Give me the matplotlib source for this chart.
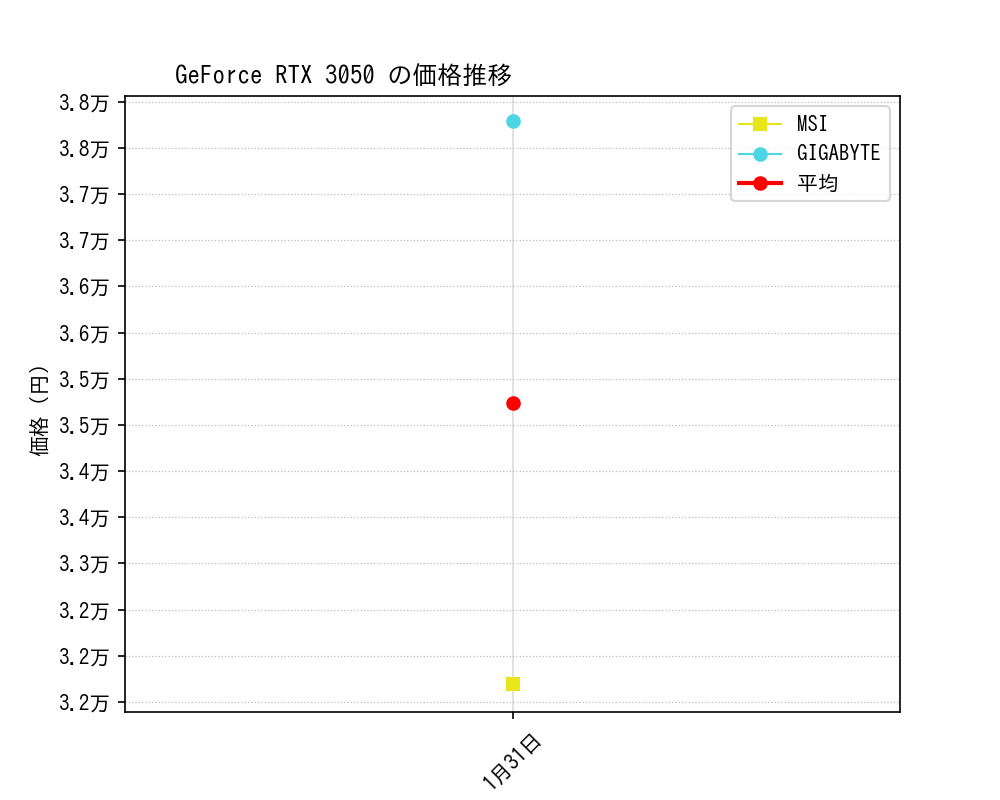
import matplotlib
matplotlib.use("Agg")
import matplotlib.pyplot as plt

plt.rcParams['font.family'] = ['IPAGothic', 'Noto Sans CJK JP', 'DejaVu Sans']

dates = ["1月31日"]
msi = [31690]
gigabyte = [37795]
average = [34742.5]

ytick_values = [31500, 32000, 32500, 33000, 33500, 34000, 34500, 35000,
                35500, 36000, 36500, 37000, 37500, 38000]
ytick_labels = ["3.2万", "3.2万", "3.2万", "3.3万", "3.4万", "3.4万", "3.5万",
                "3.5万", "3.6万", "3.6万", "3.7万", "3.7万", "3.8万", "3.8万"]
y_limits = (31392, 38062)

title = "GeForce RTX 3050 の価格推移"
ylabel = "価格（円）"

fig, ax = plt.subplots(figsize=(20/3, 16/3), dpi=150)

ax.plot(dates, msi, marker='s', color='#e6e619', linewidth=1, label='MSI')
ax.plot(dates, gigabyte, marker='o', color='#4bd6e3', linewidth=1, label='GIGABYTE')
ax.plot(dates, average, marker='o', color='red', linewidth=2, label='平均')

ax.set_ylim(*y_limits)
ax.set_yticks(ytick_values)
ax.set_yticklabels(ytick_labels)

ax.grid(axis='y', linestyle=':', color='#bbbbbb', linewidth=0.6)
ax.grid(axis='x', linestyle='-', color='#dddddd', linewidth=0.8)
ax.set_axisbelow(True)

ax.set_title(title, loc='left', x=0.065)
ax.set_ylabel(ylabel)
plt.setp(ax.get_xticklabels(), rotation=45)
ax.legend(loc='upper right')

fig.savefig("out.png", dpi=150)
